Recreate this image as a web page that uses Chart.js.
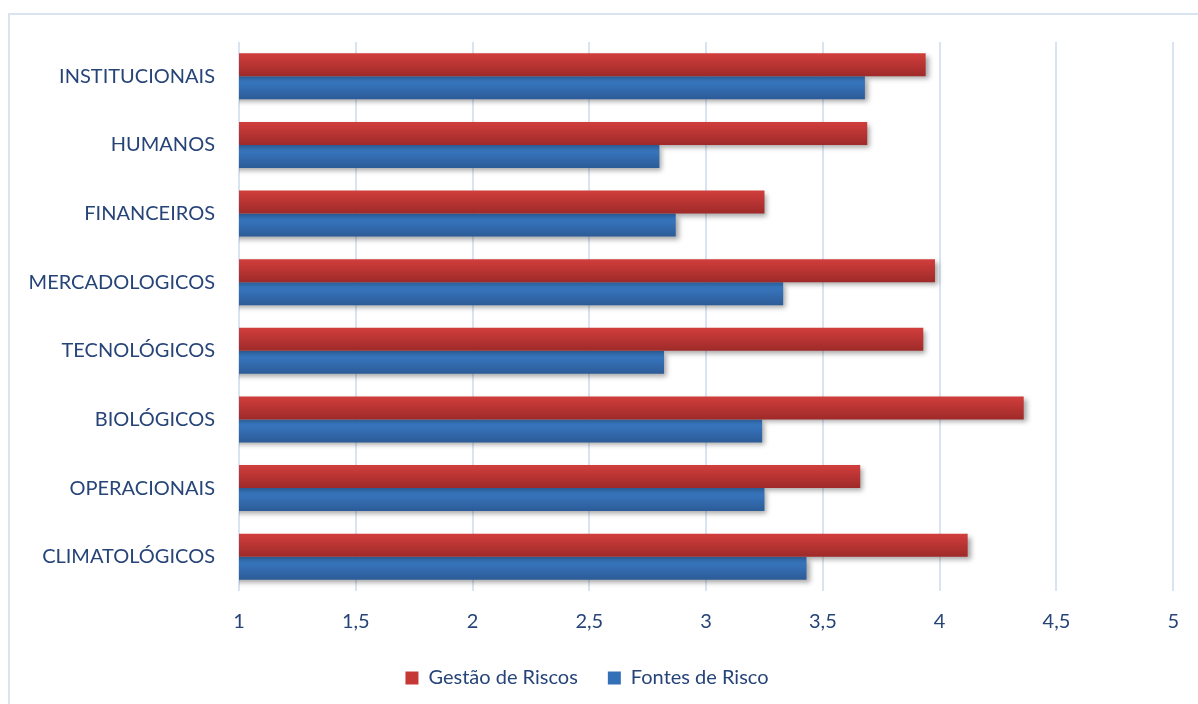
<!DOCTYPE html>
<html>
<head>
<meta charset="utf-8">
<script src="https://cdn.jsdelivr.net/npm/chart.js@4/dist/chart.umd.min.js"></script>
<style>
  html, body { margin: 0; padding: 0; background: #fff; }
  #frame {
    position: absolute; left: 8px; top: 13px;
    width: 1200px; height: 700px;
    border: 2px solid #dae4f1; box-sizing: border-box;
  }
  #wrap { position: absolute; left: 0; top: 0; width: 1198px; height: 704px; }
</style>
</head>
<body>
<div id="frame"></div>
<div id="wrap"><canvas id="myChart" width="1198" height="704"></canvas></div>
<script>
const categories = ['INSTITUCIONAIS', 'HUMANOS', 'FINANCEIROS', 'MERCADOLOGICOS', 'TECNOLÓGICOS', 'BIOLÓGICOS', 'OPERACIONAIS', 'CLIMATOLÓGICOS'];
const gestaoRiscos = [3.94, 3.69, 3.25, 3.98, 3.93, 4.36, 3.66, 4.12];
const fontesRisco = [3.68, 2.80, 2.87, 3.33, 2.82, 3.24, 3.25, 3.43];
const seriesNames = ['Gestão de Riscos', 'Fontes de Risco'];
const xMin = 1;
const xMax = 5;
const xStep = 0.5;

const textColor = '#264478';
const gridColor = '#d9e4f2';
const catPct = 0.67;

// vertical gradient per bar, like the office "shaded" fill
function barFill(top, bottom, slot) {
  return (ctx) => {
    const chart = ctx.chart;
    const y = chart.scales && chart.scales.y;
    if (ctx.type !== 'data' || !y || !y.height) return top;
    const yc = y.getPixelForValue(ctx.dataIndex);
    const half = (y.height / categories.length) * catPct / 2;
    const y0 = slot === 0 ? yc - half : yc;
    const g = chart.ctx.createLinearGradient(0, y0, 0, y0 + half);
    g.addColorStop(0, top);
    g.addColorStop(1, bottom);
    return g;
  };
}

const shadowPlugin = {
  id: 'barShadow',
  beforeDatasetsDraw(chart) {
    const c = chart.ctx;
    c.save();
    c.shadowColor = 'rgba(0,0,0,0.35)';
    c.shadowBlur = 5;
    c.shadowOffsetX = 3;
    c.shadowOffsetY = 3;
  },
  afterDatasetsDraw(chart) {
    chart.ctx.restore();
  }
};

const solid = ['#c43836', '#3470b8'];
const font = { family: 'Lato', size: 20 };

const ctx = document.getElementById('myChart');
const myChart = new Chart(ctx, {
  type: 'bar',
  data: {
    labels: categories,
    datasets: [
      {
        label: seriesNames[0],
        data: gestaoRiscos,
        backgroundColor: barFill('#d13e3c', '#9e2a29', 0),
        borderWidth: 0,
        categoryPercentage: catPct,
        barPercentage: 1
      },
      {
        label: seriesNames[1],
        data: fontesRisco,
        backgroundColor: barFill('#3b7fcc', '#2c5b97', 1),
        borderWidth: 0,
        categoryPercentage: catPct,
        barPercentage: 1
      }
    ]
  },
  plugins: [shadowPlugin],
  options: {
    indexAxis: 'y',
    responsive: false,
    animation: false,
    layout: { padding: { top: 42, right: 24, left: 0, bottom: 6 } },
    scales: {
      x: {
        min: xMin,
        max: xMax,
        ticks: {
          stepSize: xStep,
          color: textColor,
          font: font,
          padding: 19,
          callback: (v) => String(v).replace('.', ',')
        },
        grid: { color: gridColor, lineWidth: 2, drawTicks: false },
        border: { display: false },
        afterFit: (scale) => { scale.height = 47; }
      },
      y: {
        ticks: {
          color: textColor,
          font: font,
          padding: 24
        },
        grid: { display: false, drawTicks: false },
        border: { display: false },
        afterFit: (scale) => { scale.width = 239; }
      }
    },
    plugins: {
      tooltip: { enabled: false },
      legend: {
        position: 'bottom',
        labels: {
          color: textColor,
          font: font,
          boxWidth: 13,
          boxHeight: 13,
          padding: 30,
          generateLabels: (chart) => {
            const items = Chart.defaults.plugins.legend.labels.generateLabels(chart);
            items.forEach((it, i) => {
              it.fillStyle = solid[i];
              it.strokeStyle = solid[i];
              it.lineWidth = 0;
            });
            return items;
          }
        }
      }
    }
  }
});
</script>
</body>
</html>
